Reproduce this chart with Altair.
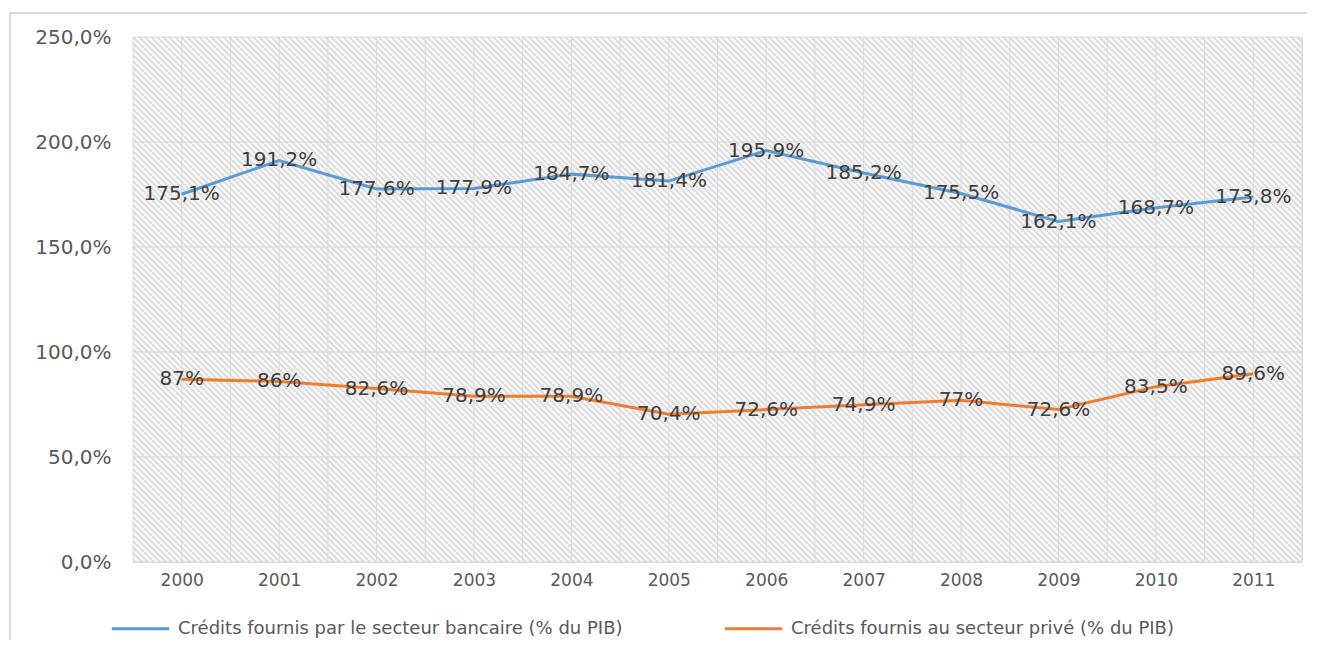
import altair as alt
import pandas as pd

years = [2000, 2001, 2002, 2003, 2004, 2005, 2006, 2007, 2008, 2009, 2010, 2011]
bank_vals = [175.1, 191.2, 177.6, 177.9, 184.7, 181.4, 195.9, 185.2, 175.5, 162.1, 168.7, 173.8]
bank_labels = ["175,1%", "191,2%", "177,6%", "177,9%", "184,7%", "181,4%", "195,9%", "185,2%", "175,5%", "162,1%", "168,7%", "173,8%"]
priv_vals = [87, 86, 82.6, 78.9, 78.9, 70.4, 72.6, 74.9, 77, 72.6, 83.5, 89.6]
priv_labels = ["87%", "86%", "82,6%", "78,9%", "78,9%", "70,4%", "72,6%", "74,9%", "77%", "72,6%", "83,5%", "89,6%"]
series_names = ["Crédits fournis par le secteur bancaire (% du PIB)",
                "Crédits fournis au secteur privé (% du PIB)"]
series_colors = ["#5B9BD5", "#ED7D31"]
y_ticks = [0, 50, 100, 150, 200, 250]

W, H = 1169, 525

rows = []
for y, v, l in zip(years, bank_vals, bank_labels):
    rows.append({"year": y, "value": v, "label": l, "series": series_names[0]})
for y, v, l in zip(years, priv_vals, priv_labels):
    rows.append({"year": y, "value": v, "label": l, "series": series_names[1]})
df = pd.DataFrame(rows)

xdom = [years[0] - 0.5, years[-1] + 0.5]
xscale = alt.Scale(domain=xdom, nice=False, zero=False)
yscale = alt.Scale(domain=[0, 250], nice=False)

xaxis = alt.Axis(values=years, format="d", title=None, grid=False, ticks=False,
                 domain=False, labelFontSize=17, labelColor="#595959",
                 labelFont="DejaVu Sans", labelPadding=10)
yaxis = alt.Axis(values=y_ticks, title=None, grid=False, ticks=False, domain=False,
                 labelExpr="replace(format(datum.value, '.1f'), '.', ',') + '%'",
                 labelFontSize=20, labelColor="#595959", labelFont="DejaVu Sans",
                 labelPadding=22)

# hatch background via a smooth striped linear gradient (45 degree lines)
period = 6.0
total = W + H
stops = []
n = int(total / period) + 1
for i in range(n + 1):
    t0 = i * period / total
    tm = (i * period + period / 2) / total
    if t0 > 1:
        break
    stops.append({"offset": min(t0, 1.0), "color": "#fdfdfd"})
    if tm <= 1:
        stops.append({"offset": tm, "color": "#dadada"})
k = (W + H) / (W * W + H * H)
grad = {"gradient": "linear", "x1": 0, "y1": 1, "x2": k * W, "y2": 1 - k * H, "stops": stops}

base = alt.Chart(df)
one_row = "datum.year == 2000 && datum.series == '%s'" % series_names[0]

lines = base.mark_line(strokeWidth=3).encode(
    x=alt.X("year:Q", scale=xscale, axis=xaxis),
    y=alt.Y("value:Q", scale=yscale, axis=yaxis),
    color=alt.Color("series:N",
                    scale=alt.Scale(domain=series_names, range=series_colors),
                    legend=alt.Legend(title=None, orient="none", legendX=-23, legendY=561,
                                      direction="horizontal", symbolType="stroke",
                                      symbolSize=3300, symbolStrokeWidth=3,
                                      labelFontSize=18, labelColor="#595959",
                                      labelFont="DejaVu Sans", labelLimit=0,
                                      columnPadding=95, labelOffset=7)),
    detail="series:N",
)

border = base.mark_rect(fill=None, stroke="#d9d9d9", strokeWidth=2).encode(
    x=alt.value(-123), x2=alt.value(W + 80), y=alt.value(-24), y2=alt.value(H + 200)
).transform_filter(one_row)

hatch = base.mark_rect(fill=grad, stroke=None).encode(
    x=alt.value(0), x2=alt.value(W), y=alt.value(0), y2=alt.value(H)
).transform_filter(one_row)

vgrid_df = pd.DataFrame({"year": sorted(set([y - 0.5 for y in years] + years + [years[-1] + 0.5]))})
vgrid = alt.Chart(vgrid_df).mark_rule(color="#dcdcdc", strokeWidth=1).encode(
    x=alt.X("year:Q", scale=xscale, axis=xaxis)
)
hgrid_df = pd.DataFrame({"value": y_ticks})
hgrid = alt.Chart(hgrid_df).mark_rule(color="#d9d9d9", strokeWidth=1).encode(
    y=alt.Y("value:Q", scale=yscale, axis=yaxis)
)

labels = base.mark_text(fontSize=20, font="DejaVu Sans", color="#404040",
                        align="center", baseline="middle").encode(
    x=alt.X("year:Q", scale=xscale, axis=xaxis),
    y=alt.Y("value:Q", scale=yscale, axis=yaxis),
    text="label:N",
)

chart = alt.layer(border, hatch, vgrid, hgrid, lines, labels).properties(
    width=W, height=H,
    autosize=alt.AutoSizeParams(type="none"),
    padding={"left": 125, "top": 29, "right": 5, "bottom": 78},
    background="#ffffff",
).configure_view(stroke="#d9d9d9", strokeWidth=1)

chart.save("out.html", embed_options={"renderer": "svg", "actions": False})
